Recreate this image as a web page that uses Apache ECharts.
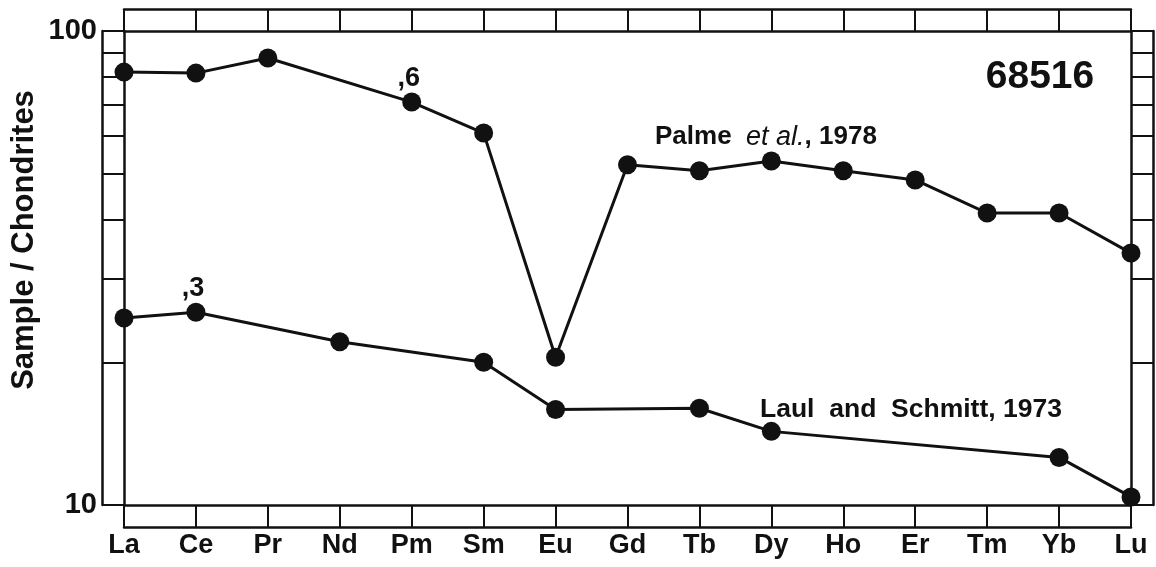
<!DOCTYPE html>
<html><head><meta charset="utf-8">
<script src="https://cdn.jsdelivr.net/npm/echarts@6/dist/echarts.min.js"></script>
<style>html,body{margin:0;padding:0;background:#fff}#c{width:1156px;height:567px}</style>
</head><body><div id="c"></div>
<script>
// ---- data ----
const elements = ['La','Ce','Pr','Nd','Pm','Sm','Eu','Gd','Tb','Dy','Ho','Er','Tm','Yb','Lu'];
const palme1978 = [81.9, 81.5, 87.7, null, 70.8, 60.9, 20.5, 52.2, 50.7, 53.2, 50.7, 48.5, 41.3, 41.3, 34.0];
const laulSchmitt1973 = [24.8, 25.5, null, 22.1, null, 20.0, 15.9, null, 16.0, 14.3, null, null, null, 12.6, 10.4];
const yTickValues = [10, 20, 30, 40, 50, 60, 70, 80, 90, 100];
const yLabelValues = [10, 100];
const palmeNote = {index: 4, text: ',6'};
const laulNote = {index: 1, text: ',3'};
const sampleName = '68516';
const yTitle = 'Sample / Chondrites';

// ---- chart ----
const FONT = '"Liberation Sans", Arial, Helvetica, sans-serif';
const INK = '#111';
const chart = echarts.init(document.getElementById('c'), null, {renderer: 'canvas'});

function buildData(values, note) {
  return values.map((v, i) => {
    if (note && i === note.index) {
      return {
        value: v,
        label: {show: true, formatter: note.text, position: 'top', distance: 2,
                offset: [-3, 1], color: INK, fontFamily: FONT, fontWeight: 'bold', fontSize: 27}
      };
    }
    return v;
  });
}

function catAxis(pos, offset, withTicks, withLabels) {
  return {
    type: 'category', data: elements, position: pos, offset: offset, boundaryGap: false,
    axisLine: {show: true, onZero: false, lineStyle: {color: INK, width: 2.5}},
    axisTick: {show: withTicks, inside: false, length: 22, interval: 0, lineStyle: {color: INK, width: 2}},
    axisLabel: {show: withLabels, interval: 0, margin: 27, color: INK, fontFamily: FONT, fontWeight: 'bold', fontSize: 27},
    splitLine: {show: false}
  };
}
function logAxis(pos, offset, withTicks, withLabels) {
  return {
    type: 'log', logBase: 10, min: 10, max: 100, position: pos, offset: offset,
    axisLine: {show: true, onZero: false, lineStyle: {color: INK, width: 2.5}},
    axisTick: {show: withTicks, inside: false, length: 22, customValues: yTickValues, lineStyle: {color: INK, width: 2}},
    axisLabel: {show: withLabels, customValues: yLabelValues, margin: 27, color: INK, fontFamily: FONT, fontWeight: 'bold', fontSize: 29},
    splitLine: {show: false}, minorTick: {show: false}, minorSplitLine: {show: false}
  };
}

const seriesStyle = {
  type: 'line', xAxisIndex: 0, yAxisIndex: 0, connectNulls: true,
  symbol: 'circle', symbolSize: 19,
  lineStyle: {color: INK, width: 3}, itemStyle: {color: INK},
  emphasis: {disabled: true}, animation: false
};

chart.setOption({
  backgroundColor: '#fff',
  animation: false,
  grid: {left: 124, right: 25, top: 31, bottom: 62, containLabel: false},
  xAxis: [
    catAxis('bottom', 0, true, true),
    catAxis('bottom', 22, false, false),
    catAxis('top', 0, true, false),
    catAxis('top', 22, false, false)
  ],
  yAxis: [
    logAxis('left', 0, true, true),
    logAxis('left', 22, false, false),
    logAxis('right', 0, true, false),
    logAxis('right', 22, false, false)
  ],
  series: [
    Object.assign({name: 'Palme et al., 1978', data: buildData(palme1978, palmeNote)}, seriesStyle),
    Object.assign({name: 'Laul and Schmitt, 1973', data: buildData(laulSchmitt1973, laulNote)}, seriesStyle)
  ],
  graphic: [
    {type: 'text', x: 1040, y: 77, style: {text: sampleName, align: 'center', verticalAlign: 'middle',
      fill: INK, font: 'bold 39px ' + FONT}},
    {type: 'text', x: 655, y: 137, style: {
      text: '{a|Palme  }{b|et al.}{a|, 1978}', verticalAlign: 'middle', align: 'left',
      rich: {
        a: {fill: INK, fontFamily: FONT, fontWeight: 'bold', fontSize: 26},
        b: {fill: INK, fontFamily: FONT, fontStyle: 'italic', fontWeight: 'normal', fontSize: 27}
      }}},
    {type: 'text', x: 760, y: 410, style: {text: 'Laul  and  Schmitt, 1973', verticalAlign: 'middle', align: 'left',
      fill: INK, font: 'bold 26.5px ' + FONT}},
    {type: 'text', x: 24, y: 240, rotation: Math.PI / 2, style: {text: yTitle, align: 'center', verticalAlign: 'middle',
      fill: INK, font: 'bold 31px ' + FONT}}
  ]
});
</script>
</body></html>
